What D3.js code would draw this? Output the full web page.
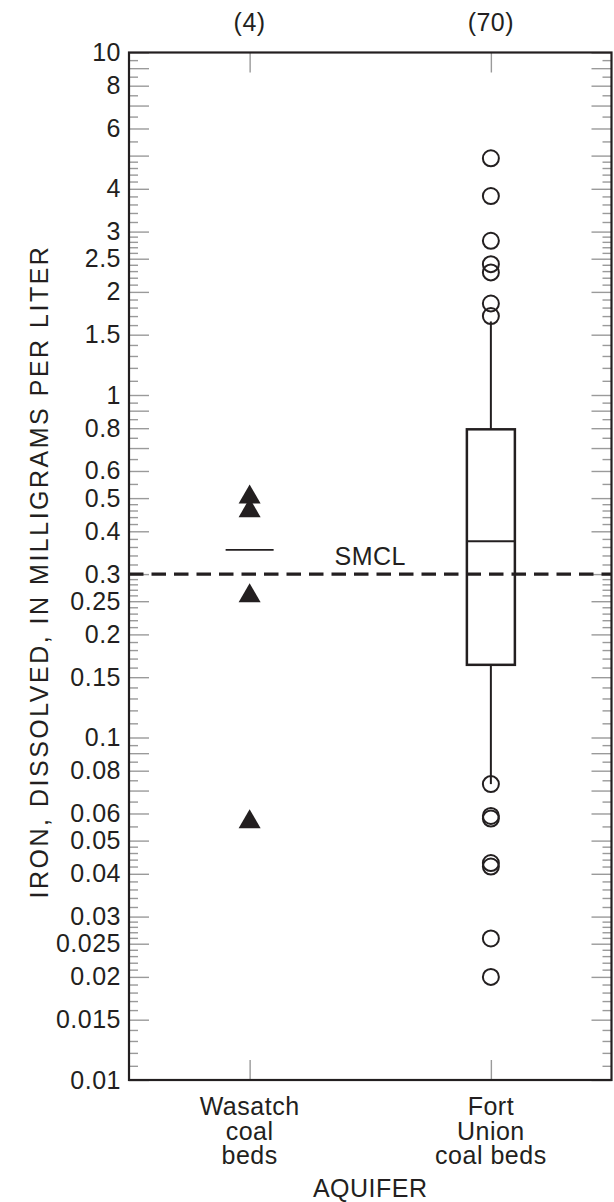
<!DOCTYPE html>
<html>
<head>
<meta charset="utf-8">
<script src="https://cdn.jsdelivr.net/npm/d3@7"></script>
<style>
  body { margin: 0; background: #fff; }
  svg text { font-family: "Liberation Sans", Arial, sans-serif; fill: #231f20; }
</style>
</head>
<body>
<svg id="chart" width="614" height="1202"></svg>
<script>
// aquifers and sample counts
const categories = ["Wasatch coal beds", "Fort Union coal beds"];
const categoryLines = [["Wasatch", "coal", "beds"], ["Fort", "Union", "coal beds"]];
const counts = ["(4)", "(70)"];

// Wasatch: only 4 samples, plotted individually with a median bar
const wasatchValues = [0.503, 0.459, 0.259, 0.0567];
const wasatchMedian = 0.353;

// Fort Union boxplot stats
const fortUnionBox = [0.0731, 0.163, 0.374, 0.794, 1.64]; // low whisker, q1, median, q3, high whisker
const fortUnionOutliers = [4.91, 3.81, 2.82, 2.41, 2.28, 1.85, 1.70,
                           0.0731, 0.059, 0.058, 0.043, 0.042, 0.0259, 0.0200];

const smcl = 0.3;

// tick mantissas per decade
const majorMantissas = [1, 1.5, 2, 2.5, 3, 4, 5, 6, 7, 8, 9];
const minorMantissas = [1.1, 1.2, 1.3, 1.4, 1.6, 1.7, 1.8, 1.9, 2.1, 2.2, 2.3, 2.4,
                        2.6, 2.7, 2.8, 2.9, 3.2, 3.4, 3.6, 3.8, 4.2, 4.4, 4.6, 4.8,
                        5.5, 6.5, 7.5, 8.5, 9.5];
const tickLabels = ["10", "8", "6", "4", "3", "2.5", "2", "1.5", "1", "0.8", "0.6", "0.5",
                    "0.4", "0.3", "0.25", "0.2", "0.15", "0.1", "0.08", "0.06", "0.05",
                    "0.04", "0.03", "0.025", "0.02", "0.015", "0.01"];
const decades = [0.01, 0.1, 1];

const margin = { top: 52.5, right: 2.5, bottom: 122, left: 129 };
const W = 614, H = 1202;
const x0 = margin.left, x1 = W - margin.right;
const y0 = margin.top, y1 = H - margin.bottom;

const dark = "#231f20";
const tickGray = "#9a9a9a";
const fontSize = "25px";

const svg = d3.select("#chart");

const y = d3.scaleLog().domain([0.01, 10]).range([y1, y0]);
const x = d3.scalePoint().domain(categories).range([x0, x1]).padding(0.5);

const majorTicks = decades.flatMap(d => majorMantissas.map(m => +(m * d).toPrecision(3))).concat([10]);
const minorTicks = decades.flatMap(d => minorMantissas.map(m => +(m * d).toPrecision(3)));
const labelSet = new Map(tickLabels.map(t => [+t, t]));

function styleAxis(g) {
  g.select(".domain").remove();
  g.selectAll(".tick line").attr("stroke", tickGray).attr("stroke-width", 1.4);
}

// left axis, major ticks with labels
svg.append("g")
    .attr("transform", `translate(${x0},0)`)
    .call(d3.axisLeft(y).tickValues(majorTicks).tickSize(-20)
      .tickFormat(d => labelSet.get(d) || ""))
    .call(styleAxis)
    .call(g => g.selectAll(".tick text")
      .attr("x", -8)
      .style("font-size", fontSize)
      .style("letter-spacing", "0.5px")
      .attr("fill", dark));

svg.append("g")
    .attr("transform", `translate(${x0},0)`)
    .call(d3.axisLeft(y).tickValues(minorTicks).tickSize(-9).tickFormat(""))
    .call(styleAxis);

// right axis, inward ticks
svg.append("g")
    .attr("transform", `translate(${x1},0)`)
    .call(d3.axisRight(y).tickValues(majorTicks).tickSize(-20).tickFormat(""))
    .call(styleAxis);

svg.append("g")
    .attr("transform", `translate(${x1},0)`)
    .call(d3.axisRight(y).tickValues(minorTicks).tickSize(-9).tickFormat(""))
    .call(styleAxis);

// category ticks top and bottom
svg.append("g")
    .attr("transform", `translate(0,${y1})`)
    .call(d3.axisBottom(x).tickSize(-20).tickFormat(""))
    .call(styleAxis);

svg.append("g")
    .attr("transform", `translate(0,${y0})`)
    .call(d3.axisTop(x).tickSize(-20).tickFormat(""))
    .call(styleAxis);

// frame
svg.append("rect")
    .attr("x", x0).attr("y", y0)
    .attr("width", x1 - x0).attr("height", y1 - y0)
    .attr("fill", "none")
    .attr("stroke", dark)
    .attr("stroke-width", 2.2);

// SMCL line
svg.append("line")
    .attr("x1", x0).attr("x2", x1)
    .attr("y1", y(smcl)).attr("y2", y(smcl))
    .attr("stroke", dark)
    .attr("stroke-width", 3.3)
    .attr("stroke-dasharray", "14.5,8");

svg.append("text")
    .attr("x", (x0 + x1) / 2)
    .attr("y", y(smcl) - 9)
    .attr("text-anchor", "middle")
    .style("font-size", fontSize)
    .style("letter-spacing", "0.5px")
    .text("SMCL");

// Wasatch points and median
const wx = x(categories[0]);
const boxW = 48;

svg.append("line")
    .attr("x1", wx - boxW / 2).attr("x2", wx + boxW / 2)
    .attr("y1", y(wasatchMedian)).attr("y2", y(wasatchMedian))
    .attr("stroke", dark).attr("stroke-width", 1.8);

svg.selectAll(".tri")
  .data(wasatchValues)
  .join("path")
    .attr("class", "tri")
    .attr("d", d3.symbol(d3.symbolTriangle, 210))
    .attr("transform", d => `translate(${wx},${y(d)})`)
    .attr("fill", dark);

// Fort Union boxplot
const fx = x(categories[1]);
const [lo, q1, med, q3, hi] = fortUnionBox;

svg.append("line")
    .attr("x1", fx).attr("x2", fx)
    .attr("y1", y(q3)).attr("y2", y(hi))
    .attr("stroke", dark).attr("stroke-width", 2);

svg.append("line")
    .attr("x1", fx).attr("x2", fx)
    .attr("y1", y(q1)).attr("y2", y(lo))
    .attr("stroke", dark).attr("stroke-width", 2);

svg.append("rect")
    .attr("x", fx - boxW / 2).attr("width", boxW)
    .attr("y", y(q3)).attr("height", y(q1) - y(q3))
    .attr("fill", "none")
    .attr("stroke", dark).attr("stroke-width", 2.5);

svg.append("line")
    .attr("x1", fx - boxW / 2).attr("x2", fx + boxW / 2)
    .attr("y1", y(med)).attr("y2", y(med))
    .attr("stroke", dark).attr("stroke-width", 2);

svg.selectAll(".out")
  .data(fortUnionOutliers)
  .join("circle")
    .attr("class", "out")
    .attr("cx", fx)
    .attr("cy", d => y(d))
    .attr("r", 8)
    .attr("fill", "none")
    .attr("stroke", dark)
    .attr("stroke-width", 2);

// counts on top
svg.selectAll(".count")
  .data(categories)
  .join("text")
    .attr("class", "count")
    .attr("x", d => x(d))
    .attr("y", 31)
    .attr("text-anchor", "middle")
    .style("font-size", fontSize)
    .style("letter-spacing", "0.5px")
    .text((d, i) => counts[i]);

// category labels
categories.forEach((c, i) => {
  const t = svg.append("text")
      .attr("x", x(c))
      .attr("y", 1115)
      .attr("text-anchor", "middle")
      .style("font-size", fontSize)
      .style("letter-spacing", "0.5px");
  categoryLines[i].forEach((line, j) => {
    t.append("tspan").attr("x", x(c)).attr("dy", j === 0 ? 0 : 24.5).text(line);
  });
});

svg.append("text")
    .attr("x", (x0 + x1) / 2)
    .attr("y", 1197)
    .attr("text-anchor", "middle")
    .style("font-size", fontSize)
    .style("letter-spacing", "0.5px")
    .text("AQUIFER");

svg.append("text")
    .attr("transform", `translate(48,${(243 + 900) / 2}) rotate(-90)`)
    .attr("text-anchor", "middle")
    .style("font-size", fontSize)
    .style("letter-spacing", "2.5px")
    .text("IRON, DISSOLVED, IN MILLIGRAMS PER LITER");
</script>
</body>
</html>
